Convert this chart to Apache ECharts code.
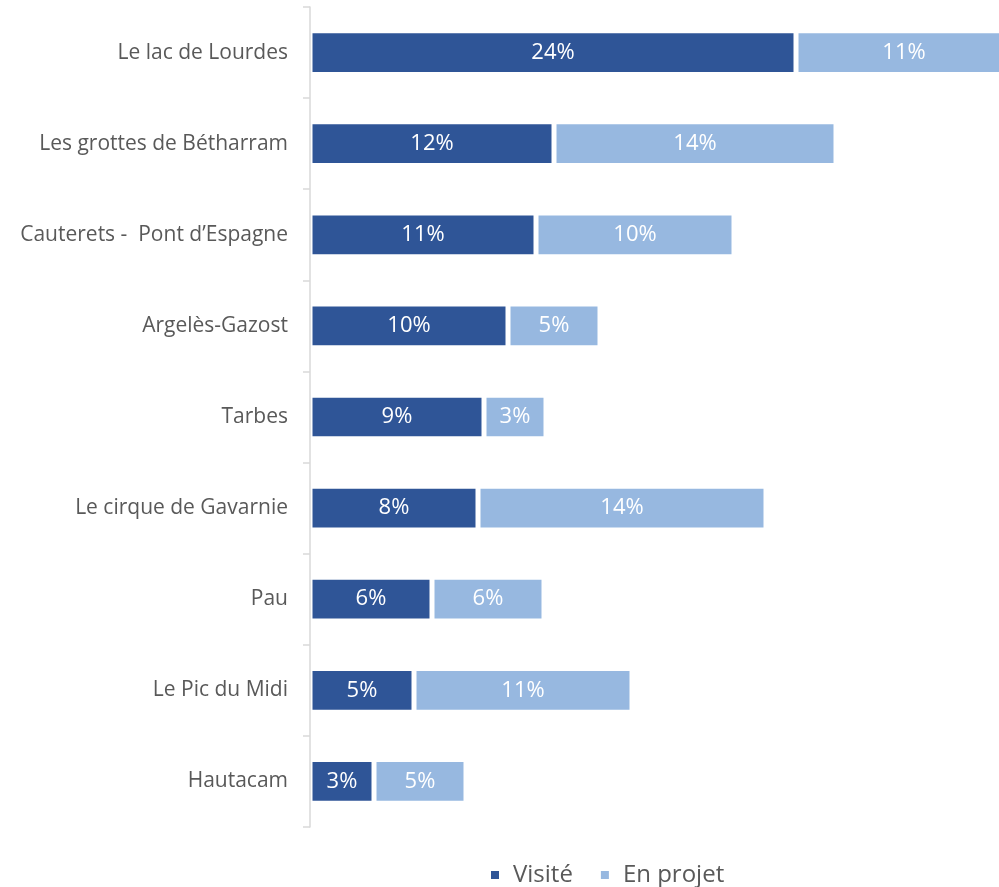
<!DOCTYPE html>
<html>
<head>
<meta charset="utf-8">
<script src="https://cdn.jsdelivr.net/npm/echarts@6/dist/echarts.min.js"></script>
<style>
  html, body { margin: 0; padding: 0; background: #fff; }
  #chart { width: 999px; height: 887px; }
</style>
</head>
<body>
<div id="chart"></div>
<script>
// Sites, top to bottom
const sites = [
  "Le lac de Lourdes",
  "Les grottes de Bétharram",
  "Cauterets -  Pont d’Espagne",
  "Argelès-Gazost",
  "Tarbes",
  "Le cirque de Gavarnie",
  "Pau",
  "Le Pic du Midi",
  "Hautacam"
];

// shares in %
const visite = [24.3, 12.2, 11.3, 9.9, 8.7, 8.4, 6.1, 5.2, 3.2];
const enProjet = [10.8, 14.1, 9.9, 4.6, 3.1, 14.4, 5.6, 10.9, 4.6];

const FONT = "Open Sans";

const chart = echarts.init(document.getElementById("chart"));

function pct(p) {
  return Math.round(p.value) + "%";
}

const barLabel = {
  show: true,
  position: "inside",
  color: "#fff",
  fontSize: 22,
  formatter: pct
};

chart.setOption({
  animation: false,
  textStyle: { fontFamily: FONT },
  // plot runs past the right edge, like the cropped original
  grid: { left: 310, top: 7, width: 800, height: 820, outerBoundsMode: "none", containLabel: false },
  legend: {
    bottom: 0,
    left: 489,
    padding: 0,
    itemWidth: 10,
    itemHeight: 10,
    itemGap: 26,
    icon: "rect",
    textStyle: { fontSize: 24, color: "#595959", fontFamily: FONT, padding: [0, 0, 0, 8] },
    data: ["Visité", "En projet"]
  },
  xAxis: {
    type: "value",
    min: 0,
    max: 40,
    show: false
  },
  yAxis: {
    type: "category",
    data: sites,
    inverse: true,
    z: 10,
    axisLine: { lineStyle: { color: "#d9d9d9", width: 1.5 } },
    axisTick: { show: true, length: 7, lineStyle: { color: "#d9d9d9", width: 1.5 } },
    axisLabel: { fontSize: 21, color: "#595959", margin: 22, fontFamily: FONT }
  },
  series: [
    {
      name: "Visité",
      type: "bar",
      stack: "total",
      data: visite,
      barWidth: "48%",
      itemStyle: { color: "#2F5597", borderColor: "#fff", borderWidth: 2.5 },
      label: barLabel
    },
    {
      name: "En projet",
      type: "bar",
      stack: "total",
      data: enProjet,
      itemStyle: { color: "#97B8E0", borderColor: "#fff", borderWidth: 2.5 },
      label: barLabel
    }
  ]
});
</script>
</body>
</html>
